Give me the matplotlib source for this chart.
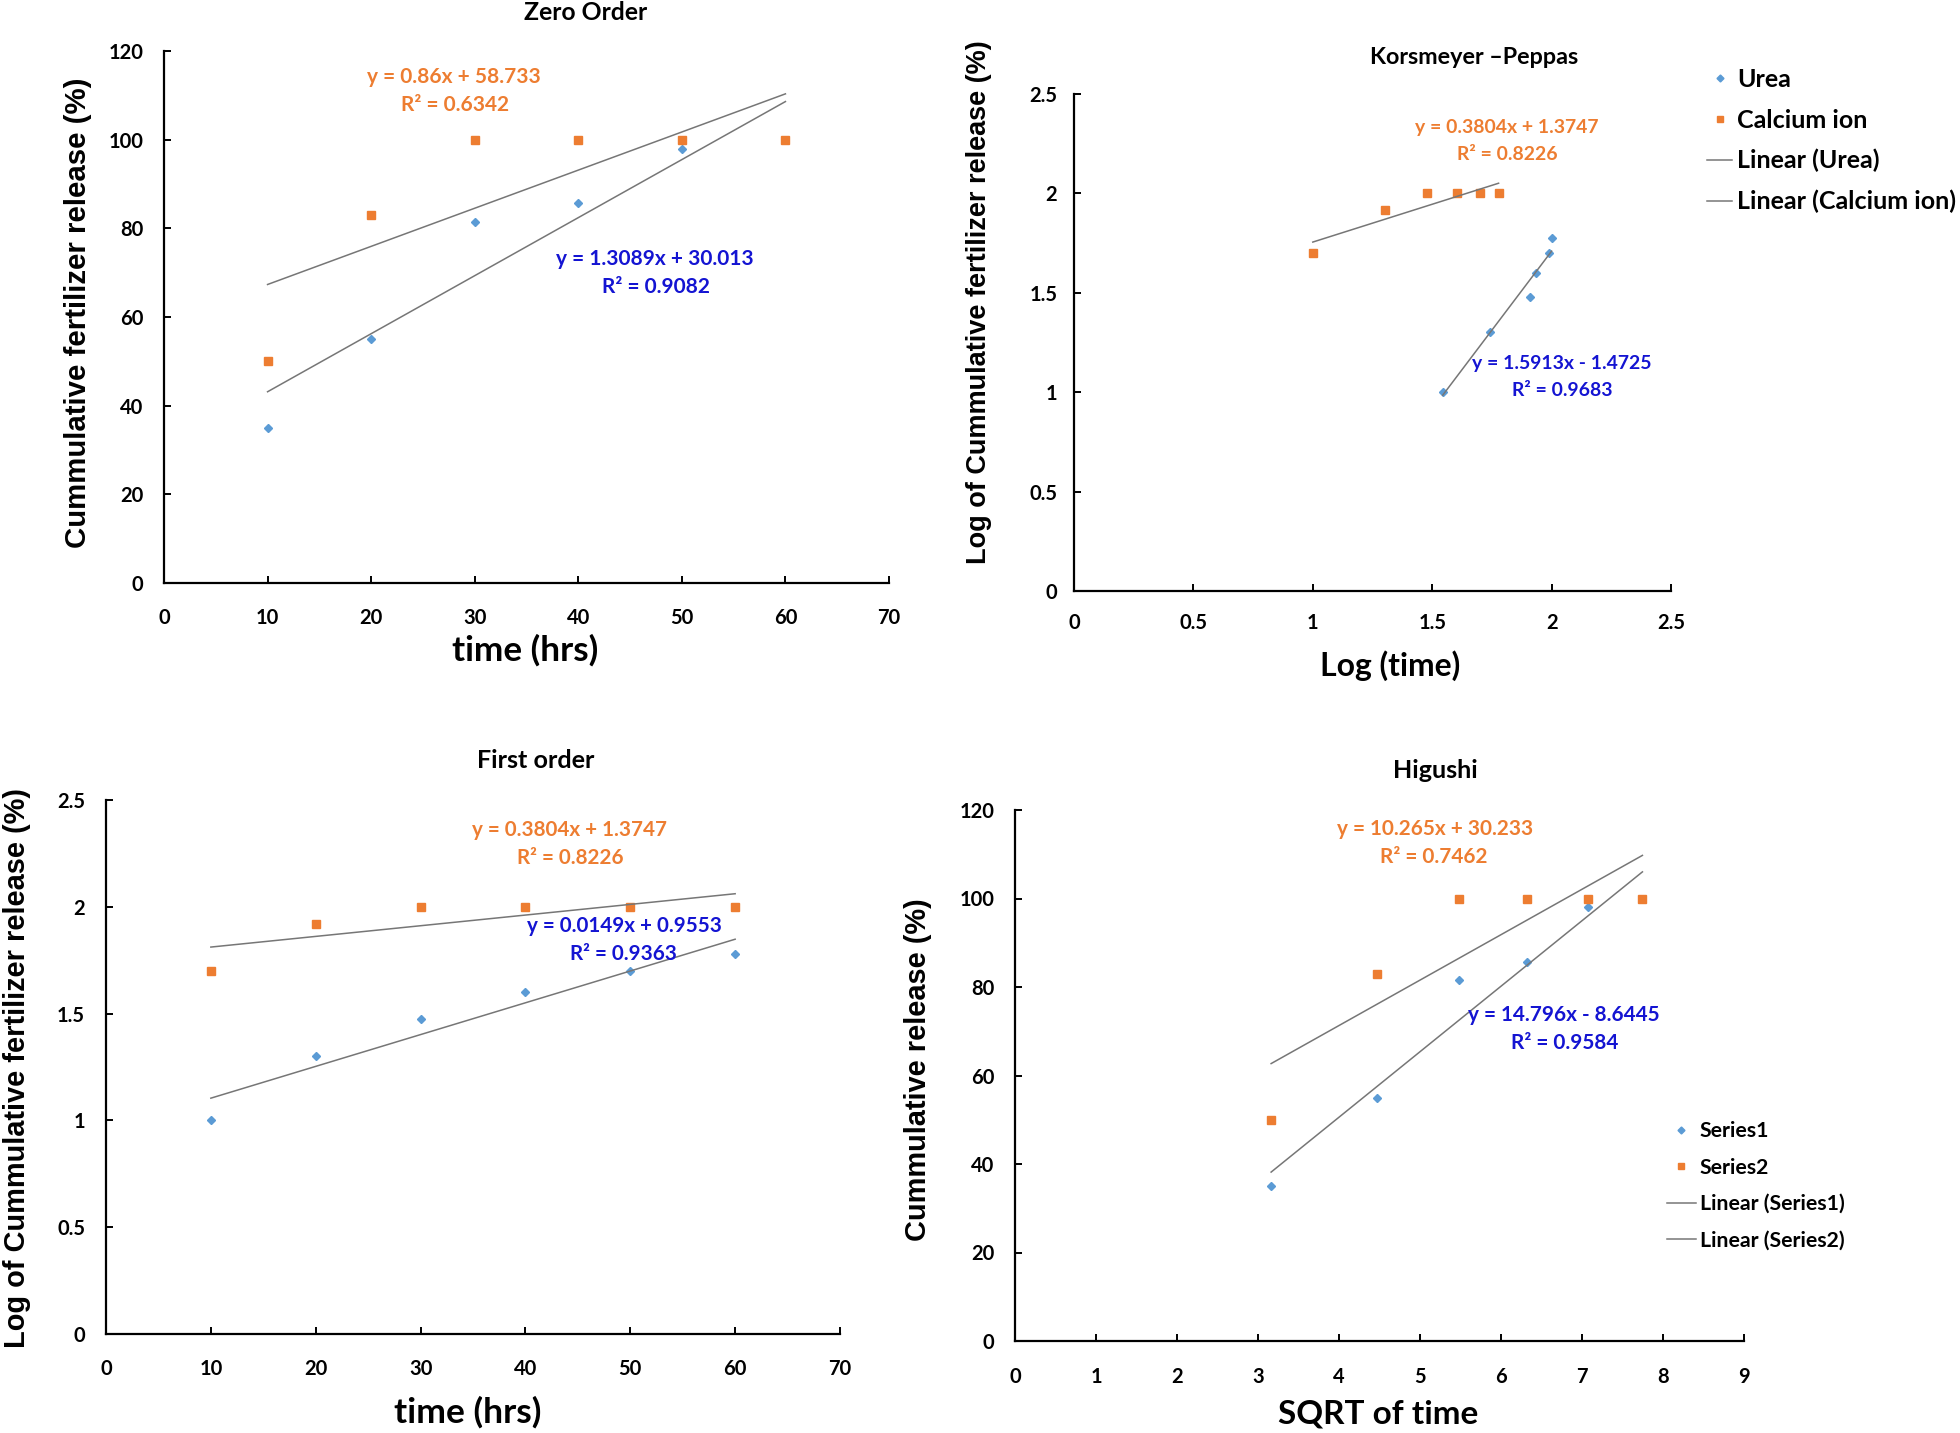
import matplotlib
matplotlib.use('Agg')
import matplotlib.pyplot as plt
import numpy as np
from matplotlib import font_manager as fm

# ---------------- data ----------------
time_hrs = [10, 20, 30, 40, 50, 60]
urea_release = [35, 55, 81.5, 85.7, 98, 100]
calcium_release = [50, 83, 100, 100, 100, 100]
log_time = [1.0, 1.301, 1.477, 1.602, 1.699, 1.778]
log_urea = [1.544, 1.740, 1.911, 1.933, 1.991, 2.0]
log_calcium = [1.699, 1.919, 2.0, 2.0, 2.0, 2.0]
sqrt_time = [3.162, 4.472, 5.477, 6.325, 7.071, 7.746]

titles = ["Zero Order", "Korsmeyer \u2013Peppas", "First order", "Higushi"]
xlabels = ["time (hrs)", "Log (time)", "time (hrs)", "SQRT of time"]
ylabels = ["Cummulative fertilizer release (%)",
           "Log of Cummulative fertilizer release (%)",
           "Log of Cummulative fertilizer release (%)",
           "Cummulative release (%)"]
eq_orange = [("y = 0.86x + 58.733", "R\u00b2 = 0.6342"),
             ("y = 0.3804x + 1.3747", "R\u00b2 = 0.8226"),
             ("y = 0.3804x + 1.3747", "R\u00b2 = 0.8226"),
             ("y = 10.265x + 30.233", "R\u00b2 = 0.7462")]
eq_blue = [("y = 1.3089x + 30.013", "R\u00b2 = 0.9082"),
           ("y = 1.5913x - 1.4725", "R\u00b2 = 0.9683"),
           ("y = 0.0149x + 0.9553", "R\u00b2 = 0.9363"),
           ("y = 14.796x - 8.6445", "R\u00b2 = 0.9584")]
legend_kp = ["Urea", "Calcium ion", "Linear (Urea)", "Linear (Calcium ion)"]
legend_hg = ["Series1", "Series2", "Linear (Series1)", "Linear (Series2)"]

# ---------------- fonts ----------------
def pick(cands):
    names = {f.name for f in fm.fontManager.ttflist}
    for c in cands:
        if c in names:
            return c
    return 'DejaVu Sans'

MAIN = pick(['Lato', 'Open Sans', 'Liberation Sans', 'DejaVu Sans'])
NARROW = pick(['Liberation Sans Narrow', 'DejaVu Sans Condensed', 'Liberation Sans'])

ORANGE = '#ED7D31'
BLUE_M = '#5B9BD5'
BLUE_T = '#1414D2'
GRAY = '#767676'

W, H = 1960, 1433
fig = plt.figure(figsize=(W / 100, H / 100), dpi=100)
renderer = fig.canvas.get_renderer()


def rect(l, r, t, b):
    return [l / W, 1 - b / H, (r - l) / W, (b - t) / H]


def ftext(x, y, s, **kw):
    return fig.text(x / W, 1 - y / H, s, ha='center', va='center', **kw)


def fit(t, target, vertical=False):
    bb = t.get_window_extent(renderer)
    cur = bb.height if vertical else bb.width
    t.set_fontsize(t.get_fontsize() * target / cur)
    return t.get_fontsize()


def style(ax, xlim, xt, ylim, yt, ypad, xpad):
    ax.set_xlim(*xlim)
    ax.set_ylim(*ylim)
    ax.set_xticks(xt)
    ax.set_yticks(yt)
    ax.set_xticklabels([f'{v:g}' for v in xt])
    ax.set_yticklabels([f'{v:g}' for v in yt])
    for s in ['top', 'right']:
        ax.spines[s].set_visible(False)
    for s in ['left', 'bottom']:
        ax.spines[s].set_linewidth(1.6)
    ax.tick_params(direction='in', length=5, width=1.4, labelsize=14.5)
    ax.tick_params(axis='y', pad=ypad)
    ax.tick_params(axis='x', pad=xpad)
    for lab in ax.get_xticklabels() + ax.get_yticklabels():
        lab.set_fontfamily(MAIN)
        lab.set_fontweight('bold')


def series(ax, xb, yb, xo, yo):
    hb, = ax.plot(xb, yb, linestyle='none', marker='D', ms=4.4, color=BLUE_M, mec=BLUE_M, zorder=2)
    ho, = ax.plot(xo, yo, linestyle='none', marker='s', ms=6.0, color=ORANGE, mec=ORANGE, zorder=3)
    handles = []
    for xs, ys in [(xb, yb), (xo, yo)]:
        k, c = np.polyfit(xs, ys, 1)
        xx = np.array([min(xs), max(xs)])
        h, = ax.plot(xx, k * xx + c, color=GRAY, lw=1.1, zorder=4)
        handles.append(h)
    return [hb, ho] + handles


axes_px = [(164, 889, 51, 583), (1074, 1671, 94, 591), (106, 840, 800, 1334), (1015, 1744, 810, 1341)]
axs = [fig.add_axes(rect(*p)) for p in axes_px]

h0 = series(axs[0], time_hrs, urea_release, time_hrs, calcium_release)
style(axs[0], (0, 70), list(range(0, 71, 10)), (0, 120), list(range(0, 121, 20)), 15, 18)

h1 = series(axs[1], log_urea, log_time, log_time, log_calcium)
style(axs[1], (0, 2.5), [0, 0.5, 1, 1.5, 2, 2.5], (0, 2.5), [0, 0.5, 1, 1.5, 2, 2.5], 12, 16)

h2 = series(axs[2], time_hrs, log_time, time_hrs, log_calcium)
style(axs[2], (0, 70), list(range(0, 71, 10)), (0, 2.5), [0, 0.5, 1, 1.5, 2, 2.5], 15, 18)

h3 = series(axs[3], sqrt_time, urea_release, sqrt_time, calcium_release)
style(axs[3], (0, 9), list(range(0, 10)), (0, 120), list(range(0, 121, 20)), 15, 19)

# legends
leg1 = axs[1].legend(h1, legend_kp, loc='upper left', bbox_to_anchor=(1707 / W, 1 - 68 / H),
                     bbox_transform=fig.transFigure, frameon=False, numpoints=1, markerscale=0.8,
                     prop={'family': MAIN, 'weight': 'bold', 'size': 18},
                     borderpad=0, borderaxespad=0, handlelength=1.0, handletextpad=0.2,
                     labelspacing=0.7)
leg3 = axs[3].legend(h3, legend_hg, loc='upper left', bbox_to_anchor=(1667 / W, 1 - 1121 / H),
                     bbox_transform=fig.transFigure, frameon=False, numpoints=1, markerscale=0.8,
                     prop={'family': MAIN, 'weight': 'bold', 'size': 15.3},
                     borderpad=0, borderaxespad=0, handlelength=1.35, handletextpad=0.2,
                     labelspacing=0.78)

# titles, axis labels
title_pos = [(586, 12, 124), (1474, 57, 210), (536, 761, 118), (1435, 770, 85)]
xlabel_pos = [(525, 650, 147), (1390, 666, 141), (468, 1412, 148), (1378, 1414, 200)]
ylabel_pos = [(78, 313, 469), (979, 302, 523), (17, 1068, 561), (918, 1070, 343)]
for i in range(4):
    x, y, w = title_pos[i]
    fit(ftext(x, y, titles[i], family=MAIN, weight='bold', fontsize=16), w)
    x, y, w = xlabel_pos[i]
    fit(ftext(x, y, xlabels[i], family=MAIN, weight='bold', fontsize=24), w)
    x, y, w = ylabel_pos[i]
    fit(ftext(x, y, ylabels[i], family=NARROW, weight='bold', fontsize=20, rotation=90), w, vertical=True)

# equations
eqo_pos = [((454, 77), (455, 105), 174), ((1507, 128), (1507, 155), 184),
           ((569, 830), (570, 858), 196), ((1435, 829), (1434, 857), 197)]
eqb_pos = [((655, 259), (656, 287), 198), ((1562, 364), (1562, 390), 180),
           ((624, 926), (623, 954), 196), ((1564, 1015), (1565, 1043), 193)]
for i in range(4):
    for eqs, pos, col in [(eq_orange, eqo_pos, ORANGE), (eq_blue, eqb_pos, BLUE_T)]:
        (x1, y1), (x2, y2), w = pos[i]
        t1 = ftext(x1, y1, eqs[i][0], family=MAIN, weight='bold', fontsize=14, color=col)
        fs = fit(t1, w)
        ftext(x2, y2, eqs[i][1], family=MAIN, weight='bold', fontsize=fs, color=col)

fig.savefig('out.png', dpi=100)
